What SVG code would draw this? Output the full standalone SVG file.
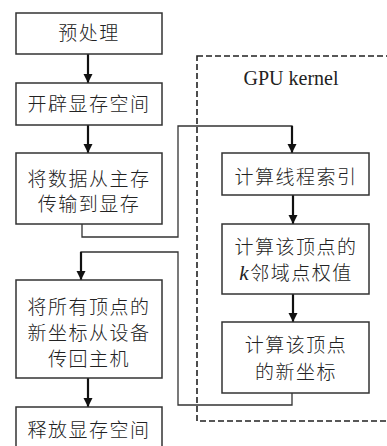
<svg xmlns="http://www.w3.org/2000/svg" width="387" height="446" viewBox="0 0 387 446">
<defs>
<marker id="ah" viewBox="0 0 10 10" refX="10" refY="5" markerWidth="9" markerHeight="10" markerUnits="userSpaceOnUse" orient="auto">
<path d="M0,0 L10,5 L0,10 Z" fill="#111"/>
</marker>
</defs>
<style>
.box{fill:#fff;stroke:#333;stroke-width:1.5}
.t{font-family:"Noto Sans CJK SC","Noto Sans CJK JP",sans-serif;font-size:19px;font-weight:300;fill:#222;text-anchor:middle;letter-spacing:1.5px}
.s{font-family:"Liberation Serif",serif;font-weight:400;font-style:italic;font-size:21px}
.arr{stroke:#111;stroke-width:2.2;fill:none;marker-end:url(#ah)}
.ln{stroke:#333;stroke-width:1.3;fill:none}
.dash{fill:none;stroke:#222;stroke-width:1.6;stroke-dasharray:6,3}
</style>
<rect width="387" height="446" fill="#fff"/>
<g id="kernel">
<rect class="dash" x="197" y="56" width="200" height="365"/>
<text x="291" y="85" font-family="Liberation Serif, serif" font-size="20" fill="#222" text-anchor="middle">GPU kernel</text>
</g>
<g id="connectors">
<line class="arr" x1="88" y1="54" x2="88" y2="83"/>
<line class="arr" x1="88" y1="125" x2="88" y2="153"/>
<polyline class="ln" points="82,224 82,237 178,237 178,126 292,126 292,134"/>
<line class="arr" x1="292" y1="126" x2="292" y2="153"/>
<line class="arr" x1="293" y1="195" x2="293" y2="224"/>
<line class="arr" x1="293" y1="294" x2="293" y2="322"/>
<polyline class="ln" points="292,393 292,405 178,405 178,252 81,252 81,262"/>
<line class="arr" x1="81" y1="252" x2="81" y2="280"/>
<line class="arr" x1="88" y1="378" x2="88" y2="407"/>
</g>
<g id="n1"><rect class="box" x="16" y="13" width="146" height="41"/><text class="t" x="89" y="40">预处理</text></g>
<g id="n2"><rect class="box" x="16" y="83" width="146" height="42"/><text class="t" x="89" y="111">开辟显存空间</text></g>
<g id="n3"><rect class="box" x="16" y="153" width="146" height="71"/><text class="t" x="89" y="186">将数据从主存</text><text class="t" x="89" y="211">传输到显存</text></g>
<g id="n4"><rect class="box" x="16" y="280" width="146" height="98"/><text class="t" x="89" y="314">将所有顶点的</text><text class="t" x="89" y="340">新坐标从设备</text><text class="t" x="89" y="366">传回主机</text></g>
<g id="n5"><rect class="box" x="16" y="407" width="146" height="45"/><text class="t" x="89" y="437">释放显存空间</text></g>
<g id="a1"><rect class="box" x="222" y="153" width="147" height="42"/><text class="t" x="296" y="184">计算线程索引</text></g>
<g id="a2"><rect class="box" x="222" y="224" width="147" height="70"/><text class="t" x="296" y="254">计算该顶点的</text><text class="t" x="296" y="280"><tspan class="s">k</tspan>邻域点权值</text></g>
<g id="a3"><rect class="box" x="222" y="322" width="147" height="71"/><text class="t" x="296" y="352">计算该顶点</text><text class="t" x="296" y="379">的新坐标</text></g>
</svg>
